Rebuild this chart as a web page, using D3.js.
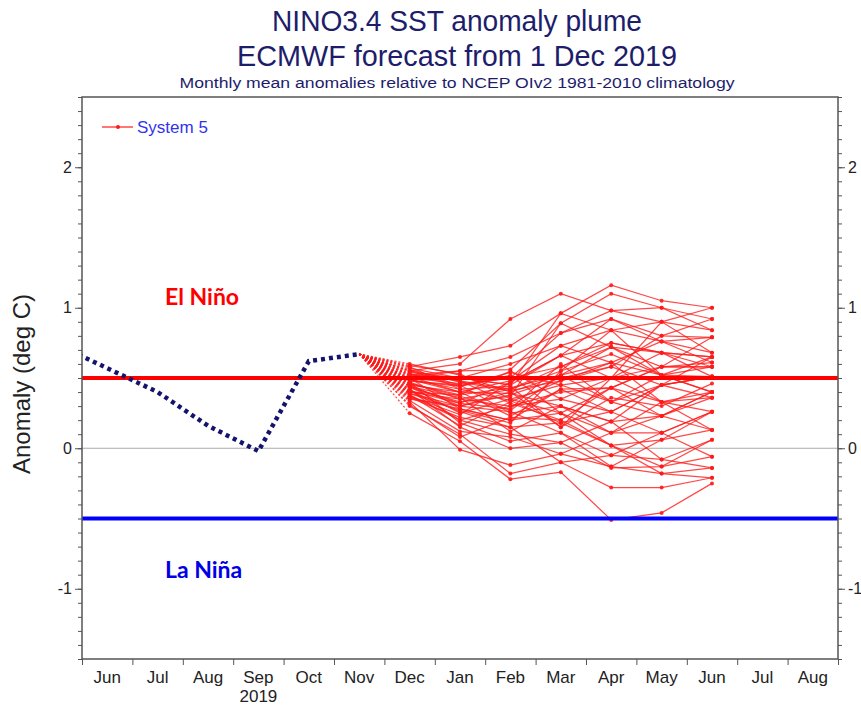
<!DOCTYPE html>
<html>
<head>
<meta charset="utf-8">
<script src="https://cdn.jsdelivr.net/npm/d3@7"></script>
<style>
  body { margin: 0; background: #fff; }
  text { font-family: "Liberation Sans Narrow", "Liberation Sans", Arial, sans-serif; }
</style>
</head>
<body>
<svg id="chart" width="861" height="707"></svg>
<script>
// month labels along the bottom (index 0 = Jun 2019)
const monthLabels = ["Jun", "Jul", "Aug", "Sep", "Oct", "Nov", "Dec", "Jan", "Feb", "Mar", "Apr", "May", "Jun", "Jul", "Aug"];

// observed anomalies (May..Nov 2019), May is clipped by the frame
const obsIndex = [-1, 0, 1, 2, 3, 4, 5];
const obsValues = [0.74, 0.57, 0.40, 0.16, -0.02, 0.62, 0.67];

// forecast months Dec 2019 .. Jun 2020
const fcIndex = [6, 7, 8, 9, 10, 11, 12];

// System 5 ensemble members, one row per member (Dec..Jun)
const members = [
  [0.55, 0.60, 0.92, 1.10, 0.98, 0.90, 0.84],
  [0.58, 0.65, 0.73, 0.96, 1.16, 1.05, 1.00],
  [0.50, 0.55, 0.56, 0.89, 1.10, 1.00, 0.92],
  [0.48, 0.45, 0.50, 0.82, 0.92, 0.80, 0.79],
  [0.45, 0.40, 0.48, 0.73, 0.84, 0.76, 0.68],
  [0.52, 0.50, 0.45, 0.66, 0.75, 0.68, 0.65],
  [0.40, 0.35, 0.42, 0.58, 0.72, 0.58, 0.61],
  [0.60, 0.52, 0.40, 0.52, 0.61, 0.52, 0.58],
  [0.35, 0.30, 0.38, 0.50, 0.58, 0.45, 0.51],
  [0.44, 0.25, 0.35, 0.45, 0.50, 0.33, 0.40],
  [0.38, 0.20, 0.30, 0.40, 0.43, 0.23, 0.36],
  [0.25, 0.05, -0.22, -0.17, -0.51, -0.46, -0.25],
  [0.30, 0.10, -0.18, -0.10, -0.28, -0.28, -0.21],
  [0.33, -0.01, -0.12, -0.04, -0.13, -0.18, -0.14],
  [0.42, 0.15, 0.00, 0.04, -0.14, -0.13, -0.06],
  [0.47, 0.18, 0.05, 0.11, -0.05, -0.08, 0.06],
  [0.36, 0.22, 0.15, 0.18, 0.02, 0.06, 0.13],
  [0.50, 0.28, 0.20, 0.25, 0.11, 0.11, 0.26],
  [0.55, 0.45, 0.25, 0.30, 0.19, 0.23, 0.40],
  [0.46, 0.38, 0.55, 0.35, 0.26, 0.45, 0.51],
  [0.41, 0.32, 0.28, 0.60, 0.33, 0.52, 0.65],
  [0.53, 0.48, 0.32, 0.20, 0.43, 0.58, 0.79],
  [0.49, 0.42, 0.44, 0.15, 0.50, 0.68, 0.58],
  [0.39, 0.27, 0.18, 0.55, 0.84, 0.90, 0.68],
  [0.57, 0.50, 0.60, 0.73, 0.61, 0.33, 0.26],
  [0.44, 0.36, 0.12, 0.30, 0.19, 0.45, 0.36],
  [0.37, 0.24, 0.47, 0.66, 0.92, 0.76, 0.61],
  [0.51, 0.40, 0.23, 0.42, 0.26, 0.11, -0.06],
  [0.43, 0.33, 0.37, 0.89, 0.72, 0.52, 0.51],
  [0.48, 0.44, 0.52, 0.25, 0.02, -0.13, 0.06],
  [0.34, 0.12, 0.08, -0.04, 0.11, 0.33, 0.13],
  [0.56, 0.47, 0.41, 0.48, 0.58, 0.80, 0.92],
  [0.45, 0.30, 0.26, 0.11, -0.13, 0.06, 0.26],
  [0.40, 0.38, 0.43, 0.52, 0.33, 0.23, 0.40],
  [0.52, 0.55, 0.65, 0.82, 0.98, 1.00, 0.84],
  [0.47, 0.35, 0.30, 0.35, 0.50, 0.58, 0.58],
  [0.58, 0.42, 0.34, 0.18, 0.26, 0.45, 0.65],
  [0.42, 0.20, 0.10, 0.04, 0.19, -0.08, -0.14],
  [0.50, 0.46, 0.50, 0.58, 0.75, 0.68, 0.51],
  [0.36, 0.28, 0.20, 0.42, 0.43, 0.33, 0.36],
  [0.54, 0.50, 0.45, 0.96, 0.84, 0.52, 0.40],
  [0.38, 0.16, 0.33, 0.48, 0.61, 0.76, 0.79],
  [0.49, 0.40, 0.39, 0.30, 0.11, 0.23, 0.13],
  [0.44, 0.32, 0.47, 0.66, 0.50, 0.90, 1.00],
  [0.59, 0.53, 0.35, 0.25, 0.43, 0.58, 0.58],
  [0.41, 0.26, 0.15, -0.10, -0.05, 0.11, 0.26],
  [0.53, 0.44, 0.54, 0.45, 0.33, 0.45, 0.51],
  [0.46, 0.37, 0.27, 0.52, 0.72, 0.68, 0.65],
  [0.31, 0.08, 0.22, 0.20, 0.02, -0.18, -0.21],
  [0.55, 0.48, 0.42, 0.55, 0.67, 0.52, 0.40],
  [0.39, 0.30, 0.40, 0.15, 0.36, 0.30, 0.46]
];

const yMajor = [-1, 0, 1, 2];
const elNinoLevel = 0.5, laNinaLevel = -0.5;

const svg = d3.select("#chart");
const pLeft = 82, pRight = 838, pTop = 97, pBottom = 659;

const x = d3.scaleLinear().domain([0, 15]).range([pLeft, pRight]);
const y = d3.scaleLinear().domain([-1.5, 2.5]).range([pBottom, pTop]);
const mx = i => x(i + 0.5);

// titles
const titleCol = "#1d1d6b";
const cx = 457;
svg.append("text").attr("x", cx).attr("y", 31).attr("text-anchor", "middle")
   .attr("font-size", 30).attr("fill", titleCol)
   .attr("textLength", 370).attr("lengthAdjust", "spacingAndGlyphs")
   .text("NINO3.4 SST anomaly plume");
svg.append("text").attr("x", cx).attr("y", 66).attr("text-anchor", "middle")
   .attr("font-size", 30).attr("fill", titleCol)
   .attr("textLength", 440).attr("lengthAdjust", "spacingAndGlyphs")
   .text("ECMWF forecast from 1 Dec 2019");
svg.append("text").attr("x", cx).attr("y", 88).attr("text-anchor", "middle")
   .attr("font-size", 14).attr("fill", titleCol)
   .attr("textLength", 555).attr("lengthAdjust", "spacingAndGlyphs")
   .text("Monthly mean anomalies relative to NCEP OIv2 1981-2010 climatology");

// clip for the plot area
svg.append("defs").append("clipPath").attr("id", "plotclip")
   .append("rect").attr("x", pLeft).attr("y", pTop).attr("width", pRight - pLeft).attr("height", pBottom - pTop);

const plot = svg.append("g").attr("clip-path", "url(#plotclip)");

// zero line
plot.append("line").attr("x1", pLeft).attr("x2", pRight).attr("y1", y(0)).attr("y2", y(0))
    .attr("stroke", "#aaa").attr("stroke-width", 1);

// plume: dashed fan from last observation, then solid members
const nov = { i: obsIndex[obsIndex.length - 1], v: obsValues[obsValues.length - 1] };
const plumeCol = "#ff1a1a";
const line = d3.line().x(d => mx(d[0])).y(d => y(d[1]));

const pl = plot.append("g").attr("stroke", plumeCol).attr("fill", "none").attr("stroke-opacity", 0.8);
members.forEach(m => {
  pl.append("path").attr("d", line([[nov.i, nov.v], [fcIndex[0], m[0]]]))
    .attr("stroke-width", 1.2).attr("stroke-dasharray", "2,2");
  pl.append("path").attr("d", line(m.map((v, k) => [fcIndex[k], v])))
    .attr("stroke-width", 1.25);
});
const dots = plot.append("g").attr("fill", plumeCol).attr("fill-opacity", 0.9);
members.forEach(m => {
  m.forEach((v, k) => {
    dots.append("circle").attr("cx", mx(fcIndex[k])).attr("cy", y(v)).attr("r", 2);
  });
});

// El Nino / La Nina thresholds
plot.append("line").attr("x1", pLeft).attr("x2", pRight).attr("y1", y(elNinoLevel)).attr("y2", y(elNinoLevel))
    .attr("stroke", "#ff0000").attr("stroke-width", 4);
plot.append("line").attr("x1", pLeft).attr("x2", pRight).attr("y1", y(laNinaLevel)).attr("y2", y(laNinaLevel))
    .attr("stroke", "#0000ff").attr("stroke-width", 4);

// observed (dotted)
plot.append("path")
    .attr("d", line(obsIndex.map((i, k) => [i, obsValues[k]])))
    .attr("fill", "none").attr("stroke", "#14146e").attr("stroke-width", 4.5)
    .attr("stroke-dasharray", "4,4");

// frame
svg.append("rect").attr("x", pLeft).attr("y", pTop).attr("width", pRight - pLeft).attr("height", pBottom - pTop)
   .attr("fill", "none").attr("stroke", "#555").attr("stroke-width", 1.5);

// y axes
const minorVals = d3.range(-15, 26).map(d => d / 10);
function yAxis(g, axisFn, xpos) {
  g.attr("transform", `translate(${xpos},0)`);
  g.append("g").call(axisFn(y).tickValues(minorVals).tickSize(4).tickFormat(""));
  g.append("g").call(axisFn(y).tickValues(yMajor).tickSize(7).tickPadding(3).tickFormat(d => String(d)));
  g.selectAll(".domain").remove();
  g.selectAll("line").attr("stroke", "#555");
  g.selectAll("text").attr("font-size", 16).attr("fill", "#222")
    .style("font-family", "'Liberation Sans', Arial, sans-serif");
}
svg.append("g").call(yAxis, d3.axisLeft, pLeft);
svg.append("g").call(yAxis, d3.axisRight, pRight);

// x axis: month boundary ticks + centred labels
const xg = svg.append("g").attr("transform", `translate(0,${pBottom})`);
xg.append("g").call(d3.axisBottom(x).tickValues(d3.range(0, 16)).tickSize(6).tickFormat(""));
xg.selectAll(".domain").remove();
xg.selectAll("line").attr("stroke", "#555");
xg.append("g").selectAll("text").data(monthLabels).join("text")
  .attr("x", (d, i) => mx(i)).attr("y", 24).attr("text-anchor", "middle")
  .attr("font-size", 17).attr("fill", "#222").text(d => d);
xg.append("text").attr("x", mx(3)).attr("y", 43).attr("text-anchor", "middle")
  .attr("font-size", 17).attr("fill", "#222").text("2019");

// y axis title
svg.append("text").attr("transform", `translate(30,${(pTop + pBottom) / 2 + 6}) rotate(-90)`)
   .attr("text-anchor", "middle").attr("font-size", 24).attr("fill", "#222")
   .style("font-family", "'Liberation Sans', Arial, sans-serif")
   .text("Anomaly (deg C)");

// regime labels
svg.append("text").attr("x", 165).attr("y", 305).attr("font-size", 23).attr("font-weight", "bold")
   .attr("fill", "#ff0000").style("font-family", "Lato, 'Open Sans', sans-serif").text("El Niño");
svg.append("text").attr("x", 165).attr("y", 578).attr("font-size", 23).attr("font-weight", "bold")
   .attr("fill", "#0000e6").style("font-family", "Lato, 'Open Sans', sans-serif").text("La Niña");

// legend
const lg = svg.append("g").attr("transform", "translate(102,127)");
lg.append("line").attr("x1", 0).attr("x2", 31).attr("stroke", plumeCol).attr("stroke-width", 1.2);
lg.append("circle").attr("cx", 16).attr("r", 2).attr("fill", plumeCol);
lg.append("text").attr("x", 35).attr("y", 6).attr("font-size", 17).attr("fill", "#3333ee")
  .style("font-family", "'Liberation Sans', Arial, sans-serif").text("System 5");
</script>
</body>
</html>
